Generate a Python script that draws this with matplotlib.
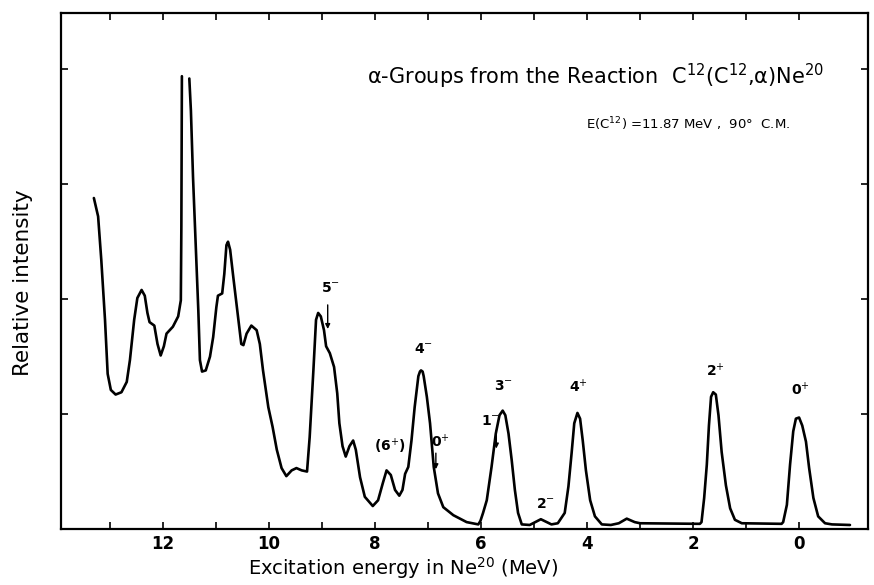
import numpy as np
import matplotlib
matplotlib.use("Agg")
import matplotlib.pyplot as plt

# --- data (excitation energy in MeV, relative intensity) ---
energy_a = [13.30, 13.22, 13.16, 13.09, 13.04, 12.98, 12.89, 12.78, 12.68, 12.62,
            12.54, 12.48, 12.40, 12.34, 12.29, 12.25, 12.16, 12.10, 12.04, 11.98,
            11.93, 11.81, 11.71, 11.66, 11.65, 11.64]
intensity_a = [2.88, 2.72, 2.34, 1.82, 1.35, 1.21, 1.17, 1.19, 1.28, 1.47,
               1.82, 2.01, 2.08, 2.03, 1.88, 1.80, 1.77, 1.61, 1.51, 1.59,
               1.70, 1.76, 1.85, 1.99, 2.63, 3.94]

energy_b = [11.50, 11.47, 11.43, 11.38, 11.33, 11.30, 11.26, 11.19, 11.11, 11.05,
            10.99, 10.96, 10.88, 10.84, 10.80, 10.77, 10.73, 10.67, 10.59, 10.52,
            10.48, 10.42, 10.33, 10.23, 10.17, 10.11, 10.01, 9.93, 9.85, 9.76,
            9.67, 9.57, 9.48, 9.38, 9.28, 9.23, 9.16, 9.11, 9.07, 9.02,
            8.96, 8.92, 8.85, 8.77, 8.71, 8.67, 8.61, 8.55, 8.48, 8.41,
            8.36, 8.28, 8.19, 8.04, 7.94, 7.85, 7.78, 7.70, 7.62, 7.54,
            7.48, 7.43, 7.37, 7.31, 7.25, 7.18, 7.15, 7.13, 7.10, 7.08, 7.02, 6.96,
            6.89, 6.81, 6.71, 6.52, 6.27, 6.05, 6.01, 5.96, 5.89, 5.80,
            5.72, 5.65, 5.59, 5.54, 5.48, 5.42, 5.36, 5.30, 5.23, 5.08,
            4.87, 4.67, 4.55, 4.42, 4.35, 4.29, 4.24, 4.18, 4.13, 4.08,
            4.02, 3.94, 3.85, 3.72, 3.55, 3.40, 3.25, 3.10, 3.00, 1.87,
            1.84, 1.79, 1.74, 1.70, 1.66, 1.62, 1.57, 1.52, 1.46, 1.38,
            1.30, 1.21, 1.08, 0.33, 0.30, 0.23, 0.17, 0.11, 0.06, 0.00,
            -0.06, -0.13, -0.19, -0.27, -0.36, -0.49, -0.62, -0.96]
intensity_b = [3.92, 3.64, 3.06, 2.48, 1.90, 1.47, 1.37, 1.38, 1.50, 1.67,
               1.93, 2.03, 2.05, 2.22, 2.47, 2.50, 2.43, 2.19, 1.88, 1.61,
               1.60, 1.70, 1.77, 1.73, 1.61, 1.38, 1.06, 0.89, 0.69, 0.53,
               0.46, 0.51, 0.53, 0.51, 0.50, 0.80, 1.38, 1.82, 1.88, 1.85,
               1.73, 1.59, 1.53, 1.41, 1.18, 0.92, 0.72, 0.63, 0.72, 0.77,
               0.69, 0.45, 0.28, 0.20, 0.25, 0.40, 0.51, 0.47, 0.34, 0.29,
               0.34, 0.48, 0.54, 0.77, 1.06, 1.33, 1.37, 1.38, 1.37, 1.33, 1.15, 0.92,
               0.54, 0.31, 0.19, 0.12, 0.06, 0.04, 0.07, 0.14, 0.25, 0.54,
               0.83, 0.99, 1.03, 0.99, 0.83, 0.60, 0.34, 0.14, 0.04, 0.035,
               0.085, 0.04, 0.05, 0.14, 0.37, 0.66, 0.92, 1.01, 0.96, 0.77,
               0.51, 0.25, 0.11, 0.04, 0.035, 0.05, 0.09, 0.06, 0.05, 0.045,
               0.06, 0.27, 0.56, 0.90, 1.15, 1.19, 1.17, 0.99, 0.67, 0.38,
               0.18, 0.08, 0.05, 0.045, 0.06, 0.21, 0.56, 0.85, 0.96, 0.97,
               0.90, 0.76, 0.53, 0.27, 0.11, 0.05, 0.04, 0.035]

# level labels: (text, energy, intensity)
level_labels = [r"5$^{-}$", r"4$^{-}$", r"(6$^{+}$)", r"0$^{+}$", r"3$^{-}$", r"1$^{-}$",
                r"2$^{-}$", r"4$^{+}$", r"2$^{+}$", r"0$^{+}$"]
level_x = [8.83, 7.09, 7.72, 6.77, 5.58, 5.82, 4.79, 4.16, 1.58, -0.02]
level_y = [2.10, 1.57, 0.72, 0.76, 1.24, 0.94, 0.22, 1.24, 1.38, 1.21]

# arrows: energy, tail intensity, tip intensity
arrow_x = [8.89, 6.85, 5.71]
arrow_tail = [1.95, 0.66, 0.86]
arrow_tip = [1.74, 0.52, 0.70]

xticks_major = [12, 10, 8, 6, 4, 2, 0]
xticks_all = list(range(0, 14))
yticks = [1, 2, 3, 4]

fig = plt.figure(figsize=(8.74, 5.85), dpi=100)
ax = fig.add_axes([61 / 874, 1 - 529 / 585, (868 - 61) / 874, (529 - 13) / 585])

ax.plot(energy_a, intensity_a, color="black", lw=1.9, solid_joinstyle="round",
        solid_capstyle="round")
ax.plot(energy_b, intensity_b, color="black", lw=1.9, solid_joinstyle="round",
        solid_capstyle="round")

ax.set_xlim(13.92, -1.30)
ax.set_ylim(0, 4.49)

ax.set_xticks(xticks_all)
ax.set_xticklabels([str(t) if t in xticks_major else "" for t in xticks_all])
ax.set_yticks(yticks)
ax.set_yticklabels([])
ax.tick_params(direction="in", length=5, width=1.2, top=True, right=True,
               labelsize=12, pad=4)
for lab in ax.get_xticklabels():
    lab.set_fontweight("bold")
for s in ax.spines.values():
    s.set_linewidth(1.6)

ax.set_xlabel(r"Excitation energy in Ne$^{20}$ (MeV)", fontsize=14)
ax.xaxis.set_label_coords(0.424, -0.050)
ax.set_ylabel("Relative intensity", fontsize=15.5)
ax.yaxis.set_label_coords(-0.035, 0.478)

for t, x, y in zip(level_labels, level_x, level_y):
    ax.text(x, y, t, ha="center", va="center", fontsize=10, fontweight="bold")

for x, y0, y1 in zip(arrow_x, arrow_tail, arrow_tip):
    ax.annotate("", xy=(x, y1), xytext=(x, y0),
                arrowprops=dict(arrowstyle="-|>", lw=1.0, color="black",
                                mutation_scale=7, shrinkA=0, shrinkB=0))

ax.text(0.663, 0.878, r"α-Groups from the Reaction  C$^{12}$(C$^{12}$,α)Ne$^{20}$",
        transform=ax.transAxes, ha="center", va="center", fontsize=15)
ax.text(0.777, 0.784, r"E(C$^{12}$) =11.87 MeV ,  90°  C.M.",
        transform=ax.transAxes, ha="center", va="center", fontsize=9.5)

fig.savefig("out.png", dpi=100)
